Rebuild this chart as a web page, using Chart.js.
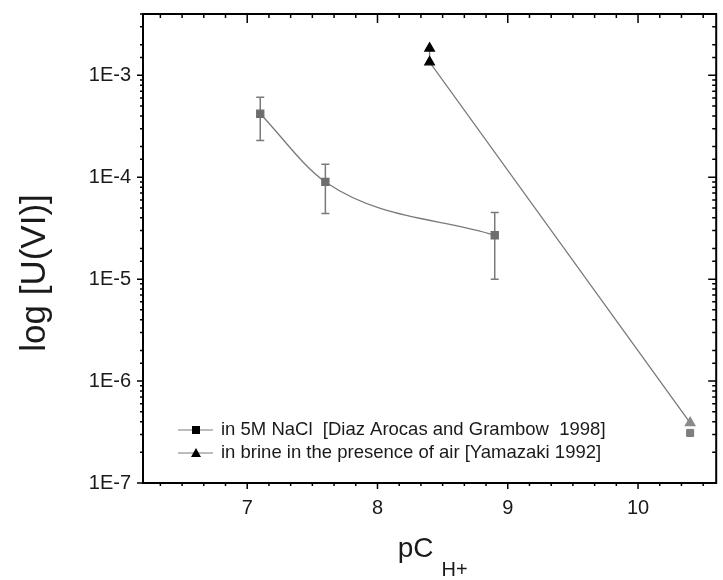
<!DOCTYPE html>
<html lang="en">
<head>
  <meta charset="UTF-8">
  <title>log [U(VI)] vs pCH+</title>
  <script src="https://cdn.jsdelivr.net/npm/chart.js"></script>
  <style>
    body { margin: 0; background: #fff; }
  </style>
</head>
<body>
  <canvas id="chart" width="723" height="580"></canvas>

  <script>
    // data
    const pcNaCl = [7.1, 7.6, 8.9];
    const uNaCl = [4.2e-4, 9.0e-5, 2.7e-5];
    const errLowNaCl = [2.3e-4, 4.4e-5, 1.0e-5];
    const errHighNaCl = [6.1e-4, 1.34e-4, 4.5e-5];
    const pcNaClExtra = [10.4];
    const uNaClExtra = [3.1e-7];
    const pcBrine = [8.4, 8.4, 10.4];
    const uBrine = [1.84e-3, 1.35e-3, 3.9e-7];
    const xTickValues = [7, 8, 9, 10];
    const legendLabels = [
      'in 5M NaCl  [Diaz Arocas and Grambow  1998]',
      'in brine in the presence of air [Yamazaki 1992]'
    ];

    const FONT = "'Liberation Sans', Arial, sans-serif";
    const GREY = '#7a7a7a';

    const toPoints = (xs, ys) => xs.map((x, i) => ({ x: x, y: ys[i] }));
    const isDecade = v => Math.abs(Math.log10(v) - Math.round(Math.log10(v))) < 1e-6;

    // error bars under the squares
    const errorBars = {
      id: 'errorBars',
      beforeDatasetsDraw(chart) {
        const ctx = chart.ctx, x = chart.scales.x, y = chart.scales.y;
        ctx.save();
        ctx.strokeStyle = GREY;
        ctx.lineWidth = 1.5;
        pcNaCl.forEach((pc, i) => {
          const px = x.getPixelForValue(pc);
          const y1 = y.getPixelForValue(errLowNaCl[i]);
          const y2 = y.getPixelForValue(errHighNaCl[i]);
          ctx.beginPath();
          ctx.moveTo(px, y1); ctx.lineTo(px, y2);
          ctx.moveTo(px - 4, y1); ctx.lineTo(px + 4, y1);
          ctx.moveTo(px - 4, y2); ctx.lineTo(px + 4, y2);
          ctx.stroke();
        });
        ctx.restore();
      }
    };

    // frame, major/minor ticks on all four sides, titles and legend
    const decorations = {
      id: 'decorations',
      afterDraw(chart) {
        const ctx = chart.ctx, a = chart.chartArea;
        const x = chart.scales.x, y = chart.scales.y;
        ctx.save();
        ctx.strokeStyle = '#000';
        ctx.lineWidth = 2;
        ctx.strokeRect(a.left, a.top, a.right - a.left, a.bottom - a.top);

        ctx.lineWidth = 1.5;
        ctx.beginPath();
        // x ticks every 1/6: outward at bottom, inward at top
        for (let k = Math.ceil(x.min * 6); k <= Math.floor(x.max * 6); k++) {
          const px = x.getPixelForValue(k / 6);
          const major = k % 6 === 0;
          ctx.moveTo(px, a.bottom); ctx.lineTo(px, a.bottom + (major ? 6 : 3));
          ctx.moveTo(px, a.top); ctx.lineTo(px, a.top + (major ? 9 : 4));
        }
        // y ticks from the log scale: outward at left, inward at right
        y.ticks.forEach(t => {
          const py = y.getPixelForValue(t.value);
          const major = isDecade(t.value);
          ctx.moveTo(a.left, py); ctx.lineTo(a.left - (major ? 6 : 3), py);
          ctx.moveTo(a.right, py); ctx.lineTo(a.right - (major ? 8 : 4), py);
        });
        ctx.stroke();

        // axis titles
        ctx.fillStyle = '#1a1a1a';
        ctx.save();
        ctx.translate(35, 273);
        ctx.rotate(-Math.PI / 2);
        ctx.font = '35px ' + FONT;
        ctx.textAlign = 'center';
        ctx.textBaseline = 'middle';
        ctx.fillText('log [U(VI)]', 0, 0);
        ctx.restore();

        ctx.textAlign = 'left';
        ctx.textBaseline = 'alphabetic';
        ctx.font = '28px ' + FONT;
        const wMain = ctx.measureText('pC').width;
        ctx.font = '20px ' + FONT;
        const wSub = ctx.measureText('H+').width;
        const gap = 8;
        const cx = (a.left + a.right) / 2 + 3;
        const sx = cx - (wMain + wSub + gap) / 2;
        ctx.font = '28px ' + FONT;
        ctx.fillText('pC', sx, 557);
        ctx.font = '20px ' + FONT;
        ctx.fillText('H+', sx + wMain + gap, 576);

        // legend
        ctx.font = '18.5px ' + FONT;
        ctx.textBaseline = 'middle';
        legendLabels.forEach((label, i) => {
          const ly = a.bottom - 53 + i * 23;
          const mx = a.left + 53;
          ctx.strokeStyle = GREY;
          ctx.lineWidth = 1;
          ctx.beginPath();
          ctx.moveTo(mx - 18, ly); ctx.lineTo(mx + 17, ly);
          ctx.stroke();
          ctx.fillStyle = '#000';
          ctx.beginPath();
          if (i === 0) {
            ctx.rect(mx - 4, ly - 4, 8, 8);
          } else {
            ctx.moveTo(mx, ly - 5); ctx.lineTo(mx + 5, ly + 4); ctx.lineTo(mx - 5, ly + 4);
            ctx.closePath();
          }
          ctx.fill();
          ctx.fillStyle = '#1a1a1a';
          ctx.fillText(label, mx + 25, ly);
        });
        ctx.restore();
      }
    };

    new Chart(document.getElementById('chart'), {
      type: 'scatter',
      data: {
        datasets: [
          {
            label: legendLabels[0],
            data: toPoints(pcNaCl, uNaCl),
            showLine: true,
            cubicInterpolationMode: 'monotone',
            borderColor: GREY,
            borderWidth: 1.3,
            pointStyle: 'rect',
            pointRadius: 5,
            pointBackgroundColor: '#6e6e6e',
            pointBorderColor: '#6e6e6e'
          },
          {
            label: 'extra',
            data: toPoints(pcNaClExtra, uNaClExtra),
            showLine: false,
            pointStyle: 'rect',
            pointRadius: 5,
            pointBackgroundColor: '#7e7e7e',
            pointBorderColor: '#7e7e7e'
          },
          {
            label: legendLabels[1],
            data: toPoints(pcBrine, uBrine),
            showLine: true,
            borderColor: GREY,
            borderWidth: 1.3,
            pointStyle: 'triangle',
            pointRadius: 5.5,
            pointBackgroundColor: ['#000', '#000', '#8a8a8a'],
            pointBorderColor: ['#000', '#000', '#8a8a8a']
          }
        ]
      },
      options: {
        responsive: false,
        animation: false,
        layout: { padding: { top: 14, right: 2, left: 0, bottom: 0 } },
        plugins: {
          legend: { display: false },
          tooltip: { enabled: false }
        },
        scales: {
          x: {
            type: 'linear',
            min: 6.2,
            max: 10.6,
            afterFit: s => { s.height = 97; s.paddingLeft = 0; s.paddingRight = 0; },
            afterBuildTicks: s => { s.ticks = xTickValues.map(v => ({ value: v })); },
            grid: { display: false, drawTicks: false },
            border: { display: false },
            ticks: {
              padding: 13,
              color: '#1a1a1a',
              font: { family: FONT, size: 20 }
            }
          },
          y: {
            type: 'logarithmic',
            min: 1e-7,
            max: 4e-3,
            afterFit: s => { s.width = 143; s.paddingTop = 0; s.paddingBottom = 0; },
            grid: { display: false, drawTicks: false },
            border: { display: false },
            ticks: {
              autoSkip: false,
              padding: 12,
              color: '#1a1a1a',
              font: { family: FONT, size: 20 },
              callback: v => isDecade(v) ? '1E' + Math.round(Math.log10(v)) : ''
            }
          }
        }
      },
      plugins: [errorBars, decorations]
    });
  </script>
</body>
</html>
